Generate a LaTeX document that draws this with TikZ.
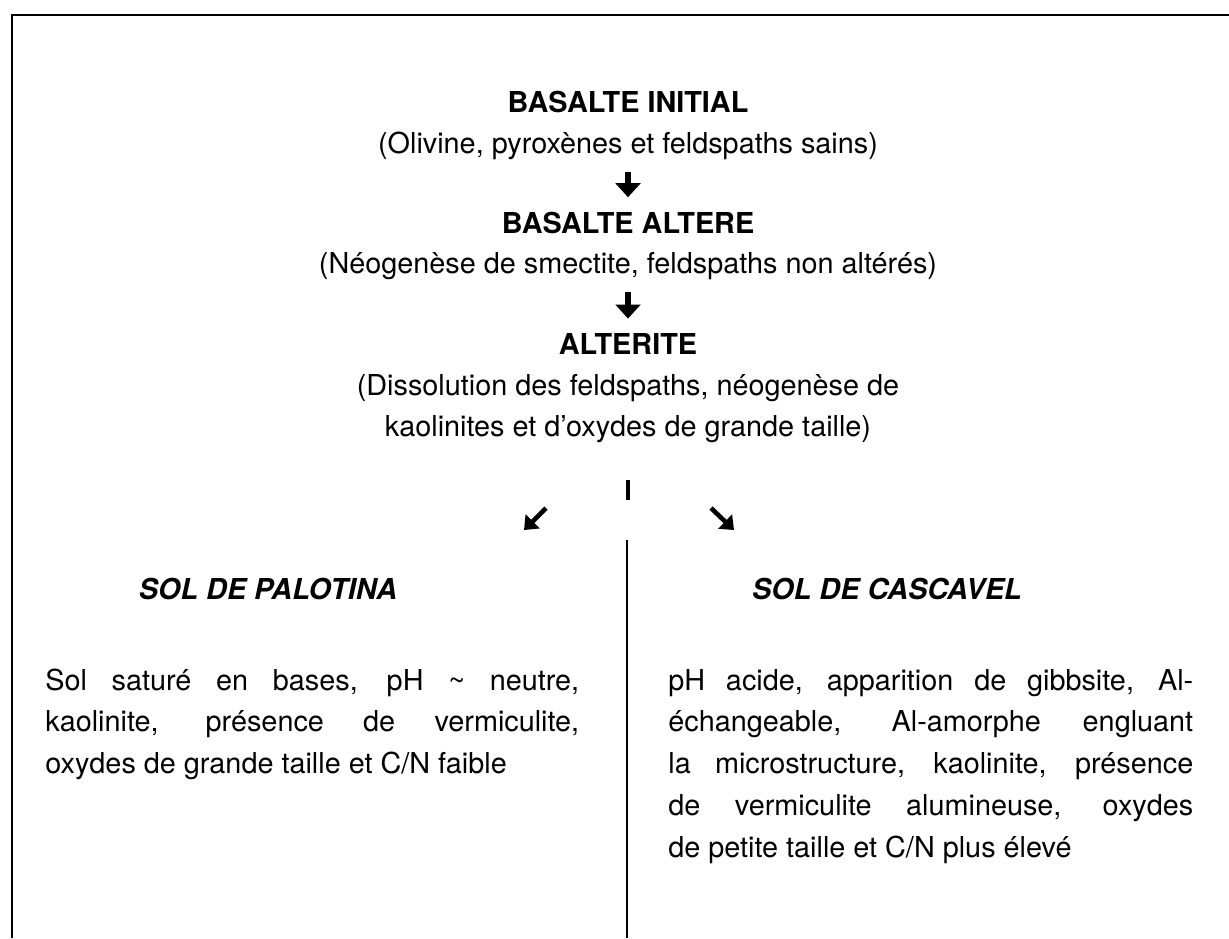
\documentclass[tikz,border=0pt]{standalone}
\usepackage{fontspec}
\setmainfont{TeX Gyre Heros}
\usetikzlibrary{arrows.meta}

\begin{document}
\begin{tikzpicture}[x=0.02cm,y=-0.02cm,
  every node/.style={inner sep=0pt,font=\fontsize{16.4}{23.8}\selectfont},
  ttl/.style={anchor=base,font=\fontsize{16.4}{23.2}\selectfont\bfseries},
  sub/.style={anchor=base,align=center,font=\fontsize{16.4}{23.2}\selectfont},
  hd/.style={anchor=base,font=\fontsize{16.4}{23.2}\selectfont\bfseries\itshape},
  body/.style={anchor=base west,align=justify,
    execute at begin node={\hyphenpenalty=10000\exhyphenpenalty=10000\tolerance=10000}},
  downarr/.style={line width=3pt,-{Triangle[width=14pt,length=8pt]},
    shorten <=7pt,shorten >=8pt},
  diagarr/.style={line width=2.6pt,-{Triangle[width=11pt,length=7pt]}},
  frame/.style={line width=1.4pt}]
\useasboundingbox (0,0) rectangle (1229,938);
\draw[frame] (12,938)--(12,15)--(1229,15);
% chain of alteration
\node[ttl] (ini) at (628,112) {BASALTE INITIAL};
\node[sub] (inisub) at (628,153) {(Olivine, pyroxènes et feldspaths sains)};
\node[ttl] (alt) at (628,233) {BASALTE ALTERE};
\node[sub] (altsub) at (628,273) {(Néogenèse de smectite, feldspaths non altérés)};
\node[ttl] (atr) at (628,354) {ALTERITE};
\node[sub] (atrsub) at (628,436) {(Dissolution des feldspaths, néogenèse de\\
  kaolinites et d'oxydes de grande taille)};
\draw[downarr] (inisub)--(alt);
\draw[downarr] (altsub)--(atr);
\coordinate (split) at (628,500);
\draw[line width=2.3pt,shorten <=21pt] (atrsub)--(split);
\coordinate (la) at (546,508);
\coordinate (lb) at (524,530);
\coordinate (ra) at (711,508);
\coordinate (rb) at (734,530);
\draw[diagarr] (la)--(lb);
\draw[diagarr] (ra)--(rb);
% the two soils
\coordinate (dtop) at (627,540);
\coordinate (dbot) at (627,938);
\draw[line width=1.1pt] (dtop)--(dbot);
\node[hd] (pal) at (268,599) {SOL DE PALOTINA};
\node[hd] (cas) at (887,599) {SOL DE CASCAVEL};
\node[body,text width=10.68cm] (paltxt) at (45,690) {Sol saturé en bases, pH \textasciitilde{} neutre,\linebreak
  kaolinite, présence de vermiculite,\linebreak
  oxydes de grande taille et C/N faible};
\node[body,text width=10.5cm] (castxt) at (668,690) {pH acide, apparition de gibbsite, Al-\linebreak
  échangeable, Al-amorphe engluant\linebreak
  la microstructure, kaolinite, présence\linebreak
  de vermiculite alumineuse, oxydes\linebreak
  de petite taille et C/N plus élevé};
\end{tikzpicture}
\end{document}
